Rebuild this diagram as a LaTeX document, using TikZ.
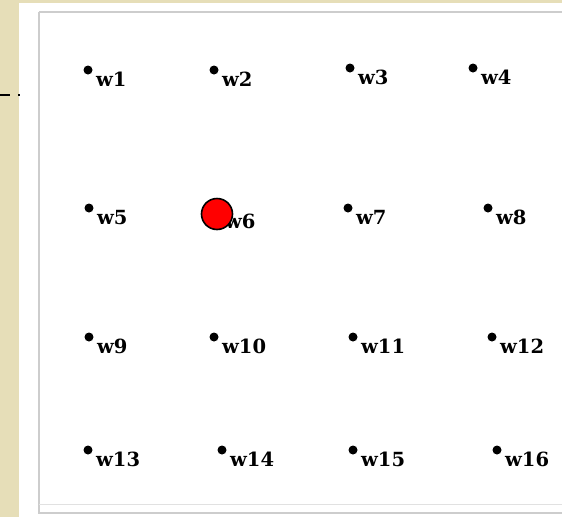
\documentclass[tikz,border=0pt]{standalone}
\usepackage{fontspec}
\newfontfamily\lblfont{DejaVu Serif}
\definecolor{parch}{RGB}{230,222,184}
\definecolor{panelline}{RGB}{205,205,205}
\tikzset{
  wdot/.style={circle,fill=black,inner sep=0pt,minimum size=9pt},
  wlbl/.style={anchor=base west,inner sep=0pt,font=\lblfont\bfseries\fontsize{19.5}{19.5}\selectfont},
  redmark/.style={circle,fill=red,draw=black,line width=1.6pt,inner sep=0pt,minimum size=31pt},
}
\begin{document}
\begin{tikzpicture}[x=1pt,y=-1pt]
\useasboundingbox (0,0) rectangle (562,517);
\fill[parch] (0,0) rectangle (562,517);
\fill[white] (19,3) rectangle (562,517);
\draw[panelline,line width=1.5pt] (39,12) -- (562,12);
\draw[panelline,line width=1.5pt] (39,12) -- (39,513) -- (562,513);
\draw[panelline!60,line width=1pt] (39,504) -- (562,504);
\coordinate (dl0) at (0,95);
\coordinate (dl1) at (20,95);
\draw[black,line width=2pt,dash pattern=on 10pt off 8pt] (dl0) -- (dl1);
\foreach \n/\x/\y in {1/88/70,2/214/70,3/350/68,4/473/68,
                      5/89/208,6/217/212,7/348/208,8/488/208,
                      9/89/337,10/214/337,11/353/337,12/492/337,
                      13/88/450,14/222/450,15/353/450,16/497/450}{
  \node[wdot] (d\n) at (\x,\y) {};
  \node[wlbl] (l\n) at ([xshift=8pt,yshift=-16pt]d\n.center) {w\n};
}
\node[redmark] (sel) at (217,214) {};
\end{tikzpicture}
\end{document}
